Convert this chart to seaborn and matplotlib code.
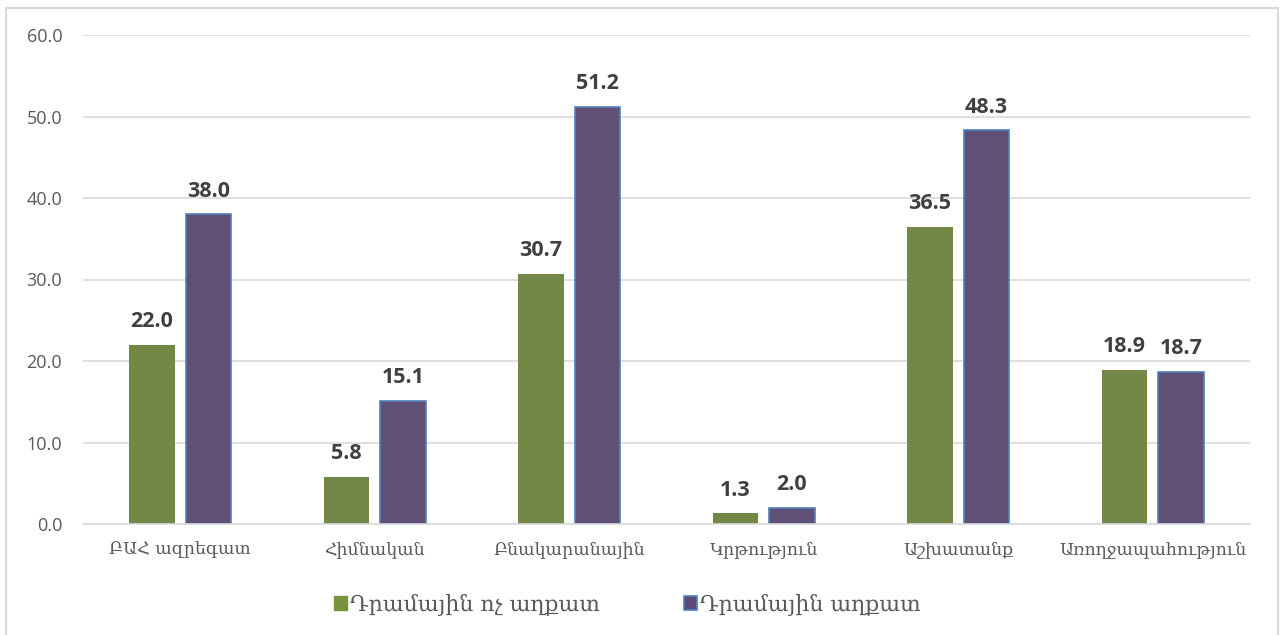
import seaborn as sns
import numpy as np
import pandas as pd
import matplotlib.pyplot as plt
from matplotlib.patches import Rectangle, Patch

categories = ["ԲԱՀ ազրեգատ", "Հիմնական", "Բնակարանային", "Կրթություն", "Աշխատանք", "Առողջապահություն"]
series_names = ["Դրամային ոչ աղքատ", "Դրամային աղքատ"]
non_poor = [22.0, 5.8, 30.7, 1.3, 36.5, 18.9]
poor = [38.0, 15.1, 51.2, 2.0, 48.3, 18.7]

green = "#77933C"
purple = "#604A7B"
edge_blue = "#4F81BD"

df = pd.DataFrame({
    "cat": categories * 2,
    "series": [series_names[0]] * 6 + [series_names[1]] * 6,
    "value": non_poor + poor,
})

sns.set_style("white")
arm_font = ["DejaVu Serif", "DejaVu Sans"]
num_font = ["Open Sans", "DejaVu Sans"]

fig = plt.figure(figsize=(12.8, 6.35), dpi=100)
ax = fig.add_axes([83 / 1280, 1 - 524 / 635, (1250 - 83) / 1280, (524 - 35) / 635])

sns.barplot(data=df, x="cat", y="value", hue="series", order=categories,
            hue_order=series_names, palette=[green, purple], width=0.58, gap=0.2,
            linewidth=0, ax=ax, legend=False)

# blue edge on the purple bars
for bar in ax.containers[1]:
    bar.set_edgecolor(edge_blue)
    bar.set_linewidth(1.2)

for cont in ax.containers:
    ax.bar_label(cont, fmt="%.1f", padding=9, fontsize=15.5, fontweight="bold",
                 color="#404040", family=num_font)

ax.set_ylim(0, 60)
ax.set_yticks(np.arange(0, 61, 10))
ax.set_yticklabels([f"{v:.1f}" for v in np.arange(0, 61, 10)], family=num_font,
                   fontsize=13, color="#595959")
ax.set_xticks(range(len(categories)))
ax.set_xticklabels(categories, family=arm_font, fontsize=12.5, color="#595959")
ax.tick_params(axis="both", length=0)
ax.tick_params(axis="x", pad=12)
ax.tick_params(axis="y", pad=15)
ax.set_xlabel("")
ax.set_ylabel("")
ax.grid(axis="y", color="#d9d9d9", linewidth=1.2)
ax.set_axisbelow(True)
for s in ["left", "right", "top"]:
    ax.spines[s].set_visible(False)
ax.spines["bottom"].set_color("#d9d9d9")
ax.spines["bottom"].set_linewidth(1.2)

handles = [Patch(facecolor=green, edgecolor=green),
           Patch(facecolor=purple, edgecolor=edge_blue, linewidth=1.2)]
fig.legend(handles, series_names, loc="center", bbox_to_anchor=(0.49, 1 - 605 / 635),
           ncol=2, frameon=False, prop={"family": arm_font, "size": 15.8},
           handlelength=0.6, handleheight=0.6, handletextpad=0.15, columnspacing=3.8,
           labelcolor="#595959")

fig.patches.append(Rectangle((6 / 1280, -0.1), (1278 - 6) / 1280, 1.1 - 8 / 635,
                             transform=fig.transFigure, fill=False,
                             edgecolor="#d9d9d9", linewidth=1.5))

fig.savefig("out.png", dpi=100)
